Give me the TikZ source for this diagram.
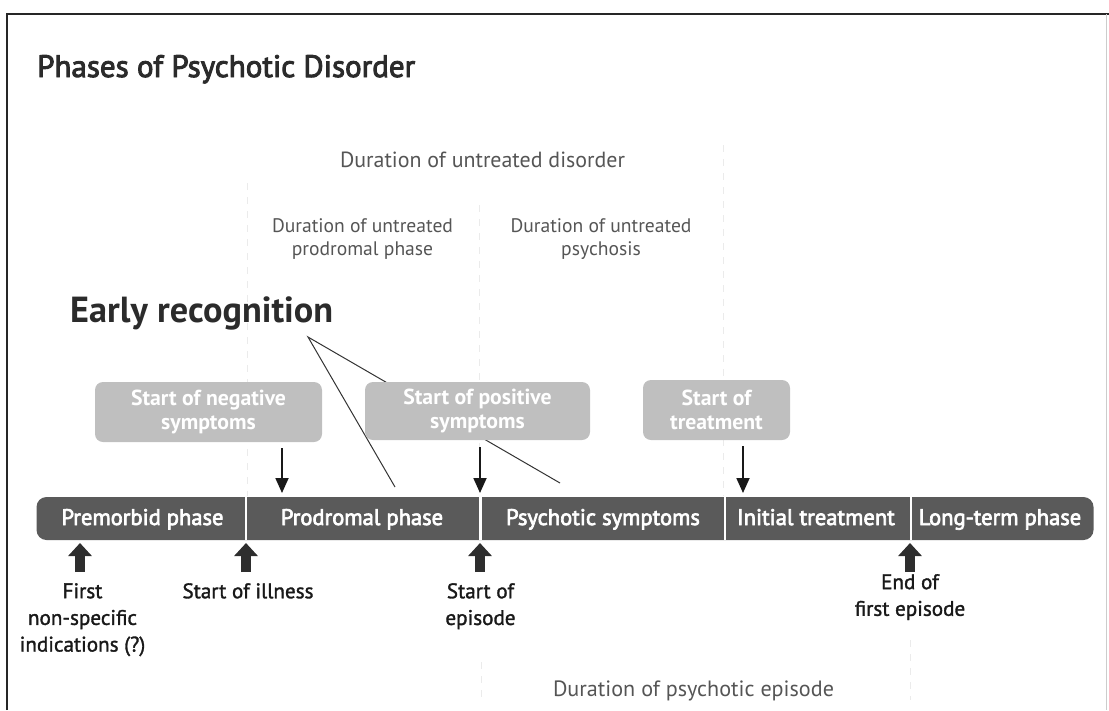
\documentclass[tikz,border=0pt]{standalone}
\usepackage{fontspec}
\setmainfont{PT Sans}
\newfontfamily\semifont[FakeBold=3]{PT Sans}
\newfontfamily\medfont[FakeBold=1.5]{PT Sans}
\usetikzlibrary{arrows.meta}
\definecolor{bardark}{HTML}{5A5A5A}
\definecolor{boxgray}{HTML}{BFBFBF}
\definecolor{durgray}{HTML}{555555}
\definecolor{titlegray}{HTML}{2B2B2B}
\newlength\tmpw
\newcommand\calcfs[4]{\settowidth\tmpw{\fontsize{10}{12}\selectfont#2#3}\pgfmathsetmacro#1{10*#4/\tmpw}}
\tikzset{
  durtext/.style={text=durgray, inner sep=0},
  gbox/.style={fill=boxgray, rounded corners=8pt, text=white, align=center, inner sep=0},
  seg/.style={text=white, inner sep=0, anchor=base},
  lbl/.style={text=black!90, align=center, inner sep=0, anchor=north},
  downarr/.style={-{Triangle[width=13pt,length=15pt]}, line width=1.8pt, draw=black!90},
  uparr/.style={-{Triangle[width=23pt,length=13pt]}, line width=10pt, draw=black!82},
  guide/.style={draw=black!8, line width=0.8pt, dash pattern=on 7pt off 7pt},
  divider/.style={draw=white, line width=2.5pt},
  recline/.style={draw=black!80, line width=1pt}
}
\begin{document}%
\calcfs{\fsTitle}{\semifont}{Phases of Psychotic Disorder}{378}%
\calcfs{\fsDud}{}{Duration of untreated disorder}{285}%
\calcfs{\fsSub}{}{Duration of untreated}{181}%
\calcfs{\fsEarly}{\bfseries}{Early recognition}{263}%
\calcfs{\fsBox}{\bfseries}{Start of negative}{155}%
\calcfs{\fsBar}{\semifont}{Premorbid phase}{162}%
\calcfs{\fsLbl}{\medfont}{Start of illness}{131}%
\calcfs{\fsDpe}{}{Duration of psychotic episode}{281}%
\begin{tikzpicture}[x=1pt,y=-1pt]
\useasboundingbox (0,0) rectangle (1109,710);
% frame
\draw[line width=2pt, black!85] (7,710) -- (7,14) -- (1109,14);
\draw[line width=1pt, black!20] (1106,14) -- (1106,710);
% faint guides
\draw[guide] (247,183) -- (247,496);
\draw[guide] (479,205) -- (479,496);
\draw[guide] (723,145) -- (723,496);
\draw[guide] (481,662) -- (481,700);
\draw[guide] (910,640) -- (910,700);
% title
\node[anchor=base west, inner sep=0, text=titlegray, font=\semifont\fontsize{\fsTitle}{34}\selectfont] (title) at (37,77) {Phases of Psychotic Disorder};
% durations
\node[durtext, anchor=base, font=\fontsize{\fsDud}{24}\selectfont] (dud) at (482.5,167) {Duration of untreated disorder};
\node[durtext, align=center, anchor=north, font=\fontsize{\fsSub}{23}\selectfont] (dup) at (362.5,218) {Duration of untreated\\prodromal phase};
\node[durtext, align=center, anchor=north, font=\fontsize{\fsSub}{23}\selectfont] (dus) at (601,218) {Duration of untreated\\psychosis};
% early recognition
\node[anchor=base west, inner sep=0, text=titlegray, font=\bfseries\fontsize{\fsEarly}{36}\selectfont] (early) at (70,322) {Early recognition};
\coordinate (apex) at (308,337);
\coordinate (e1) at (395,487);
\coordinate (e2) at (560,483);
\draw[recline] (e1) -- (apex) -- (e2);
% boxes
\node[gbox, minimum width=227pt, minimum height=60pt, font=\bfseries\fontsize{\fsBox}{24}\selectfont] (neg) at (208.5,412) {Start of negative\\symptoms};
\node[gbox, minimum width=225pt, minimum height=58pt, font=\bfseries\fontsize{\fsBox}{24}\selectfont] (pos) at (477.5,411) {Start of positive\\symptoms};
\node[gbox, minimum width=147pt, minimum height=60pt, font=\bfseries\fontsize{\fsBox}{24}\selectfont] (treat) at (716.5,410) {Start of\\treatment};
% bar
\node[fill=bardark, rounded corners=10pt, minimum width=1057pt, minimum height=43pt, inner sep=0] (bar) at (565,518.5) {};
\node[seg, font=\semifont\fontsize{\fsBar}{24}\selectfont] (premorbid) at (142.5,525) {Premorbid phase};
\node[seg, font=\semifont\fontsize{\fsBar}{24}\selectfont] (prodromal) at (362,525) {Prodromal phase};
\node[seg, font=\semifont\fontsize{\fsBar}{24}\selectfont] (psychotic) at (603,525) {Psychotic symptoms};
\node[seg, font=\semifont\fontsize{\fsBar}{24}\selectfont] (initial) at (816,525) {Initial treatment};
\node[seg, font=\semifont\fontsize{\fsBar}{24}\selectfont] (longterm) at (1000,525) {Long-term phase};
\coordinate (d1t) at (246,497); \coordinate (d1b) at (246,540);
\coordinate (d2t) at (480.5,497); \coordinate (d2b) at (480.5,540);
\coordinate (d3t) at (725,497); \coordinate (d3b) at (725,540);
\coordinate (d4t) at (911,497); \coordinate (d4b) at (911,540);
\draw[divider] (d1t) -- (d1b);
\draw[divider] (d2t) -- (d2b);
\draw[divider] (d3t) -- (d3b);
\draw[divider] (d4t) -- (d4b);
% down arrows
\coordinate (a1) at (282,493);
\coordinate (a2) at (480,493);
\coordinate (a3) at (743,493);
\draw[downarr, shorten <=6pt] (neg.south -| a1) -- (a1);
\draw[downarr, shorten <=7pt] (pos.south -| a2) -- (a2);
\draw[downarr, shorten <=6pt] (treat.south -| a3) -- (a3);
% up arrows
\coordinate (u1) at (80,543);  \coordinate (u1b) at (80,572);
\coordinate (u2) at (246,543); \coordinate (u2b) at (246,572);
\coordinate (u3) at (480,543); \coordinate (u3b) at (480,572);
\coordinate (u4) at (910,543); \coordinate (u4b) at (910,572);
\draw[uparr] (u1b) -- (u1);
\draw[uparr] (u2b) -- (u2);
\draw[uparr] (u3b) -- (u3);
\draw[uparr] (u4b) -- (u4);
% labels
\node[lbl, font=\medfont\fontsize{\fsLbl}{26.7}\selectfont] (first) at (82.5,583) {First\\non-specific\\indications (?)};
\node[lbl, font=\medfont\fontsize{\fsLbl}{26.7}\selectfont] (illness) at (248,583) {Start of illness};
\node[lbl, font=\medfont\fontsize{\fsLbl}{26.7}\selectfont] (episode) at (480.5,583) {Start of\\episode};
\node[lbl, font=\medfont\fontsize{\fsLbl}{26.7}\selectfont] (endfirst) at (910,574) {End of\\first episode};
\node[durtext, anchor=base, font=\fontsize{\fsDpe}{24}\selectfont] (dpe) at (693.5,696) {Duration of psychotic episode};
\end{tikzpicture}
\end{document}
